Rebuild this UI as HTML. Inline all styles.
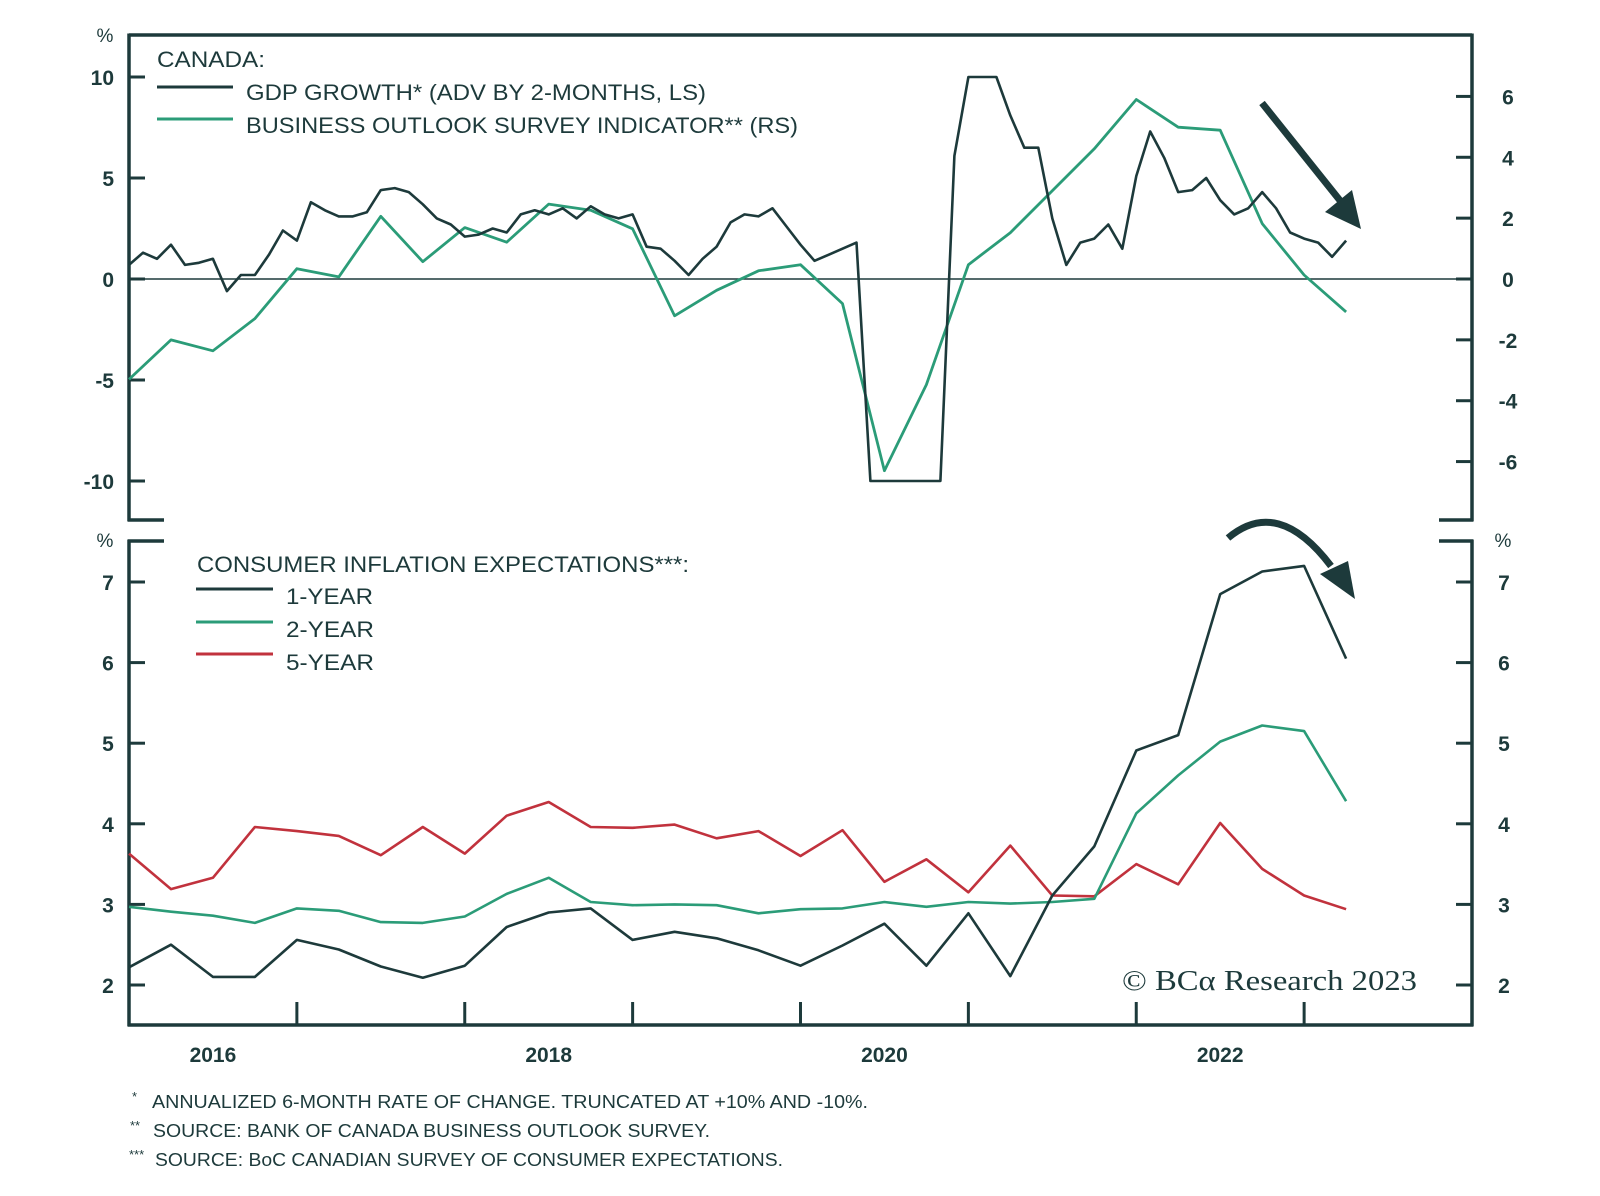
<!DOCTYPE html>
<html><head><meta charset="utf-8"><style>
html,body{margin:0;padding:0;background:#fff;}
svg{display:block;font-family:"Liberation Sans",sans-serif;}
</style></head><body>
<svg width="1600" height="1196" viewBox="0 0 1600 1196" xmlns="http://www.w3.org/2000/svg">
<g id="axes"></g>
<g id="marks"></g>
<g id="labels"></g>
</svg>
<script>
const gdpGrowth = [0.7,1.3,1.0,1.7,0.7,0.8,1.0,-0.6,0.2,0.2,
1.2,2.4,1.9,3.8,3.4,3.1,3.1,3.3,4.4,4.5,
4.3,3.7,3.0,2.7,2.1,2.2,2.5,2.3,3.2,3.4,
3.2,3.5,3.0,3.6,3.2,3.0,3.2,1.6,1.5,0.9,
0.2,1.0,1.6,2.8,3.2,3.1,3.5,2.6,1.7,0.9,
1.2,1.5,1.8,-10,-10,-10,-10,-10,-10,6.1,
10,10,10,8.1,6.5,6.5,3.0,0.7,1.8,2.0,
2.7,1.5,5.1,7.3,6.0,4.3,4.4,5.0,3.9,3.2,
3.5,4.3,3.5,2.3,2.0,1.8,1.1,1.9];
const bosIndicator = [-3.3,-2.0,-2.36,-1.3,0.34,0.07,2.06,0.57,1.69,1.21,2.46,2.26,1.65,-1.21,-0.37,0.27,0.47,-0.81,-6.3,-3.47,0.47,1.52,2.9,4.28,5.9,4.99,4.89,1.82,0.13,-1.08];
const infl1y = [2.22,2.5,2.1,2.1,2.56,2.44,2.23,2.09,2.24,2.72,2.9,2.95,2.56,2.66,2.58,2.43,2.24,2.49,2.76,2.24,2.89,2.11,3.11,3.72,4.91,5.1,6.85,7.13,7.2,6.05];
const infl2y = [2.97,2.91,2.86,2.77,2.95,2.92,2.78,2.77,2.85,3.13,3.33,3.03,2.99,3.0,2.99,2.89,2.94,2.95,3.03,2.97,3.03,3.01,3.03,3.07,4.13,4.6,5.02,5.22,5.15,4.28];
const infl5y = [3.63,3.19,3.33,3.96,3.91,3.85,3.61,3.96,3.63,4.1,4.27,3.96,3.95,3.99,3.82,3.91,3.6,3.92,3.28,3.56,3.15,3.73,3.11,3.1,3.5,3.25,4.01,3.44,3.11,2.94];
const yearLabels = ["2016","2018","2020","2022"];
const leftTopTicks = ["10","5","0","-5","-10"];
const rightTopTicks = ["6","4","2","0","-2","-4","-6"];
const bottomTicks = ["7","6","5","4","3","2"];

const NS="http://www.w3.org/2000/svg";
const DARK="#1d3a3b", GREEN="#2b9c78", RED="#c1323d";
const X0=129,X1=1472;
function xT(t){return X0+(t-2016)*(X1-X0)/8;}
function yL(v){return 279-v*20.2;}
function yR(v){return 279-v*30.43;}
function yB(v){return 582+(7-v)*80.6;}
function mk(tag,attrs,parent){const e=document.createElementNS(NS,tag);for(const k in attrs)e.setAttribute(k,attrs[k]);parent.appendChild(e);return e;}
const axes=document.getElementById('axes'),marks=document.getElementById('marks'),labels=document.getElementById('labels');
function line(x1,y1,x2,y2,w,c,name){const e=mk('line',{x1,y1,x2,y2,stroke:c,'stroke-width':w},axes);

return e;}
function txt(s,x,y,size,anchor,name,extra){const e=mk('text',Object.assign({x,y,'font-size':size,'text-anchor':anchor,fill:DARK},extra||{}),labels);e.textContent=s;

return e;}
const YB=1025;
line(X0,35,X1,35,3.5,DARK,'top-frame');
line(X0,33.5,X0,521,3.5,DARK,'left-axis-top');
line(X1,33.5,X1,521,3.5,DARK,'right-axis-top');
line(X0-1.5,520,164,520,3.5,DARK,'break-left-top');
line(1439,520,X1+1.5,520,3.5,DARK,'break-right-top');
line(X0,540,X0,YB+1,3.5,DARK,'left-axis-bottom');
line(X1,540,X1,YB+1,3.5,DARK,'right-axis-bottom');
line(X0-1.5,541,164,541,3.5,DARK,'break-left-bottom');
line(1439,541,X1+1.5,541,3.5,DARK,'break-right-bottom');
line(X0-1.5,YB,X1+1.5,YB,3.5,DARK,'x-axis');
line(X0,yL(0),X1,yL(0),1.5,DARK,'zero-line');
for(let yr=2017;yr<=2023;yr++){line(xT(yr),YB,xT(yr),YB-23,3,DARK,'x-tick');}
yearLabels.forEach(s=>{const t=+s+0.5;txt(s,xT(t),1062,21,'middle','x-tick-label',{'font-weight':'bold'});});
leftTopTicks.forEach(s=>{const v=+s;line(X0,yL(v),X0+16,yL(v),3,DARK,'left-tick');txt(s,114,yL(v)+8,21,'end','left-tick-label',{'font-weight':'bold'});});
rightTopTicks.forEach(s=>{const v=+s;line(X1-16,yR(v),X1,yR(v),3,DARK,'right-tick');txt(s,1508,yR(v)+8,21,'middle','right-tick-label',{'font-weight':'bold'});});
bottomTicks.forEach(s=>{const v=+s;line(X0,yB(v),X0+16,yB(v),3,DARK,'left-tick-bottom');txt(s,108,yB(v)+8,21,'middle','left-tick-label-bottom',{'font-weight':'bold'});
line(X1-16,yB(v),X1,yB(v),3,DARK,'right-tick-bottom');txt(s,1504,yB(v)+8,21,'middle','right-tick-label-bottom',{'font-weight':'bold'});});
txt('%',105,42,19,'middle','left-unit-top');
txt('%',105,547,19,'middle','left-unit-bottom');
txt('%',1503,547,19,'middle','right-unit-bottom');
function series(arr,step,yf,color,name,w){const pts=arr.map((v,i)=>xT(2016+i*step).toFixed(1)+','+yf(v).toFixed(1)).join(' ');
const e=mk('polyline',{points:pts,fill:'none',stroke:color,'stroke-width':w||2.6,'stroke-linejoin':'round'},marks);

}
series(bosIndicator,0.25,yR,GREEN,'bos-indicator-line',2.8);
series(gdpGrowth,1/12,yL,DARK,'gdp-growth-line',2.6);
series(infl5y,0.25,yB,RED,'inflation-5y-line',2.6);
series(infl2y,0.25,yB,GREEN,'inflation-2y-line',2.6);
series(infl1y,0.25,yB,DARK,'inflation-1y-line',2.6);
txt('CANADA:',157,67,22,'start','legend-title-top',{textLength:108,lengthAdjust:'spacingAndGlyphs'});
line(157,87,233,87,3,DARK,'legend-swatch-gdp');
txt('GDP GROWTH* (ADV BY 2-MONTHS, LS)',246,100,22,'start','legend-entry-gdp',{textLength:460,lengthAdjust:'spacingAndGlyphs'});
line(157,119,233,119,3,GREEN,'legend-swatch-bos');
txt('BUSINESS OUTLOOK SURVEY INDICATOR** (RS)',246,133,22,'start','legend-entry-bos',{textLength:552,lengthAdjust:'spacingAndGlyphs'});
txt('CONSUMER INFLATION EXPECTATIONS***:',197,572,22,'start','legend-title-bottom',{textLength:492,lengthAdjust:'spacingAndGlyphs'});
line(196,589,273,589,3,DARK,'legend-swatch-1y');
txt('1-YEAR',286,604,22,'start','legend-entry-1y',{textLength:87,lengthAdjust:'spacingAndGlyphs'});
line(196,622,273,622,3,GREEN,'legend-swatch-2y');
txt('2-YEAR',286,637,22,'start','legend-entry-2y',{textLength:88,lengthAdjust:'spacingAndGlyphs'});
line(196,654,273,654,3,RED,'legend-swatch-5y');
txt('5-YEAR',286,670,22,'start','legend-entry-5y',{textLength:88,lengthAdjust:'spacingAndGlyphs'});
txt('© BCα Research 2023',1122,990,29,'start','copyright',{'font-family':'Liberation Serif, serif',textLength:295,lengthAdjust:'spacingAndGlyphs'});
txt('*',132,1101,13,'start','footnote-mark');
txt('ANNUALIZED 6-MONTH RATE OF CHANGE. TRUNCATED AT +10% AND -10%.',152,1108,18,'start','footnote-1',{textLength:716,lengthAdjust:'spacingAndGlyphs'});
txt('**',130,1130,13,'start','footnote-mark');
txt('SOURCE: BANK OF CANADA BUSINESS OUTLOOK SURVEY.',153,1137,18,'start','footnote-2',{textLength:557,lengthAdjust:'spacingAndGlyphs'});
txt('***',129,1159,13,'start','footnote-mark');
txt('SOURCE: BoC CANADIAN SURVEY OF CONSUMER EXPECTATIONS.',155,1166,18,'start','footnote-3',{textLength:628,lengthAdjust:'spacingAndGlyphs'});
const a1=mk('g',{transform:'translate(-6,0)'},marks);


mk('line',{x1:1268,y1:103,x2:1348,y2:203,stroke:DARK,'stroke-width':7},a1);
mk('polygon',{points:'1367,229 1331,212 1358,190',fill:DARK},a1);
const a2=mk('g',{transform:'translate(-7,-4)'},marks);


mk('path',{d:'M1235,542 Q1285,500 1338,570',fill:'none',stroke:DARK,'stroke-width':7},a2);
mk('polygon',{points:'1362,603 1327,578 1355,565',fill:DARK},a2);
</script>
</body></html>
